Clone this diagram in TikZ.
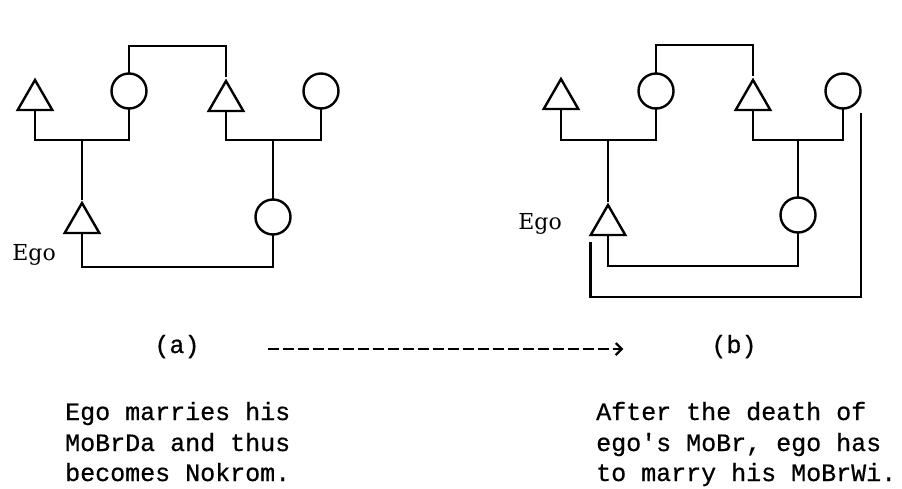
\documentclass[tikz,border=0pt]{standalone}
\usepackage{fontspec}
\usetikzlibrary{shapes.geometric,arrows.meta}
\newfontfamily\capfont[FakeBold=0.6]{Liberation Mono}
\newfontfamily\egofont{DejaVu Serif}
\begin{document}
\begin{tikzpicture}[x=1pt,y=-1pt,line width=2.4pt,
  male/.style={draw,regular polygon,regular polygon sides=3,minimum size=40pt,inner sep=0pt,outer sep=0pt},
  female/.style={draw,circle,minimum size=35pt,inner sep=0pt,outer sep=0pt},
  kin/.style={draw,line width=2.4pt},
  egolbl/.style={font=\egofont\fontsize{22}{26}\selectfont,inner sep=0pt,anchor=base east},
  captxt/.style={font=\capfont\fontsize{25}{30.5}\selectfont,inner sep=0pt,anchor=base west},
  panel/.style={font=\capfont\fontsize{25}{30.5}\selectfont,inner sep=0pt,anchor=base},
  typed/.style={line width=2.8pt,dash pattern=on 11.5pt off 3.5pt,-{Straight Barb[length=6pt,width=12pt,line width=2.2pt]}}
]
\useasboundingbox (0,0) rectangle (902,488);

% level coordinates
\coordinate (topA) at (0,46);
\coordinate (midA) at (0,140);
\coordinate (botA) at (0,267);
\coordinate (topB) at (0,45);
\coordinate (midB) at (0,140);
\coordinate (botB) at (0,266);

% ---------- diagram (a)
\node[male]   (T1a) at (35,100) {};
\node[female] (C2a) at (129,91) {};
\node[male]   (T3a) at (226,101) {};
\node[female] (C4a) at (321,91) {};
\node[male]   (E1)  at (82,223) {};
\node[female] (C5a) at (273,217) {};
\node[egolbl] (ego1) at (57,260) {Ego};

\draw[kin,shorten >=4pt] (C2a.north) -- (C2a.north |- topA) -| (T3a.north);
\draw[kin] (T1a.south) -- (T1a.south |- midA) -| (C2a.south);
\draw[kin] (T3a.south) -- (T3a.south |- midA) -| (C4a.south);
\draw[kin,shorten <=3pt] (E1.north) -- (E1.north |- midA);
\draw[kin] (C5a.north) -- (C5a.north |- midA);
\draw[kin] (E1.south) -- (E1.south |- botA) -| (C5a.south);

% ---------- diagram (b)
\node[male]   (T1b) at (561,99) {};
\node[female] (C2b) at (656,91) {};
\node[male]   (T3b) at (753,100) {};
\node[female] (C4b) at (843,91) {};
\node[male]   (E2)  at (608,225) {};
\node[female] (C5b) at (798,215) {};
\node[egolbl] (ego2) at (563,229) {Ego};
\coordinate (loopend) at (861,113);

\draw[kin,shorten >=4pt] (C2b.north) -- (C2b.north |- topB) -| (T3b.north);
\draw[kin] (T1b.south) -- (T1b.south |- midB) -| (C2b.south);
\draw[kin] (T3b.south) -- (T3b.south |- midB) -| (C4b.south);
\draw[kin,shorten <=3pt] (E2.north) -- (E2.north |- midB);
\draw[kin] (C5b.north) -- (C5b.north |- midB);
\draw[kin] (E2.south) -- (E2.south |- botB) -| (C5b.south);
\draw[kin] ([yshift=-7pt]E2.corner 2) -- ++(0,55) -| (loopend);

% ---------- panel labels and arrow
\node[panel] (pa) at (177,353) {(a)};
\node[panel] (pb) at (734,353) {(b)};
\draw[typed,shorten <=67pt,shorten >=87pt] ([yshift=-2.5pt]pa.east) -- ([yshift=-2.5pt]pb.west);

% ---------- captions
\node[captxt] (la1) at (64,420) {Ego marries his};
\node[captxt] (la2) at (64,451) {MoBrDa and thus};
\node[captxt] (la3) at (64,481) {becomes Nokrom.};
\node[captxt] (lb1) at (595,420) {After the death of};
\node[captxt] (lb2) at (595,451) {ego's MoBr, ego has};
\node[captxt] (lb3) at (595,481) {to marry his MoBrWi.};
\end{tikzpicture}
\end{document}
